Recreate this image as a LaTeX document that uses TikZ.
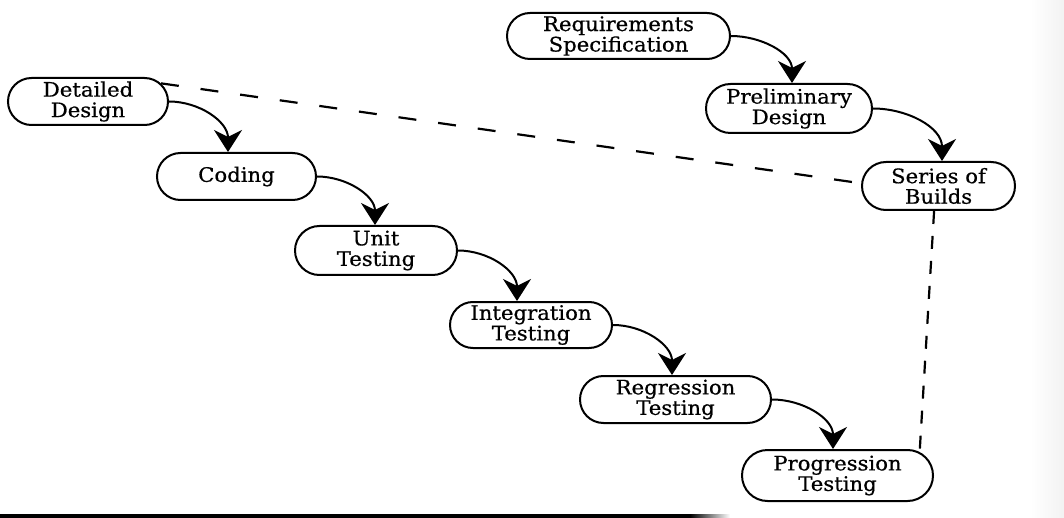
\documentclass[tikz,border=0pt]{standalone}
\usepackage{fontspec}
\setmainfont{DejaVu Serif}[FakeStretch=1.06,FakeBold=0.6]
\usetikzlibrary{arrows.meta,shapes.misc}
\begin{document}
\begin{tikzpicture}[x=1pt,y=-1pt,
  phase/.style={draw, line width=2pt, rounded rectangle, inner sep=0pt,
    align=center, font=\fontsize{20}{20.5}\selectfont},
  flow/.style={line width=2pt,
    -{Stealth[length=22pt,width=28pt,inset=7pt]}},
  linkdash/.style={line width=2.2pt, dash pattern=on 18pt off 22pt},
  builddash/.style={line width=2.2pt, dash pattern=on 13pt off 12pt}]
  % page frame
  \useasboundingbox (0,0) rectangle (1064,518);
  \fill[white] (0,0) rectangle (1064,518);
  \shade[left color=white, right color=black!5] (1030,0) rectangle (1064,518);
  % dark rule along the lower edge
  \fill[black] (0,514) rectangle (690,518);
  \shade[left color=black, right color=white] (690,514) rectangle (730,518);

  % phases
  \node[phase, minimum width=223pt, minimum height=46pt] (req)   at (618.5,36)  {Requirements\\Specification};
  \node[phase, minimum width=166pt, minimum height=49pt] (pre)   at (789,108.5) {Preliminary\\Design};
  \node[phase, minimum width=153pt, minimum height=48pt] (sob)   at (938.5,186) {Series of\\Builds};
  \node[phase, minimum width=160pt, minimum height=47pt] (det)   at (88,101.5)  {Detailed\\Design};
  \node[phase, minimum width=159pt, minimum height=47pt] (cod)   at (236.5,176.5) {Coding};
  \node[phase, minimum width=162pt, minimum height=49pt] (unit)  at (376,250.5) {Unit\\Testing};
  \node[phase, minimum width=162pt, minimum height=46pt] (integ) at (531,325)   {Integration\\Testing};
  \node[phase, minimum width=191pt, minimum height=47pt] (reg)   at (675.5,399.5) {Regression\\Testing};
  \node[phase, minimum width=191pt, minimum height=51pt] (prog)  at (837.5,475.5) {Progression\\Testing};

  % flow between phases
  \draw[flow] (req.east)   to[out=0,in=90] ([xshift=3pt]pre.north);
  \draw[flow] (pre.east)   to[out=0,in=90] ([xshift=3.5pt]sob.north);
  \draw[flow] (det.east)   to[out=0,in=90] ([xshift=-8.5pt]cod.north);
  \draw[flow] (cod.east)   to[out=0,in=90] ([xshift=-1pt]unit.north);
  \draw[flow] (unit.east)  to[out=0,in=90] ([xshift=-14pt]integ.north);
  \draw[flow] (integ.east) to[out=0,in=90] ([xshift=-3.5pt]reg.north);
  \draw[flow] (reg.east)   to[out=0,in=90] ([xshift=-4.5pt]prog.north);

  % links to the series of builds
  \draw[linkdash] (det.14) -- (sob.178);
  \draw[builddash] (sob.260) -- (prog.16);
\end{tikzpicture}
\end{document}
